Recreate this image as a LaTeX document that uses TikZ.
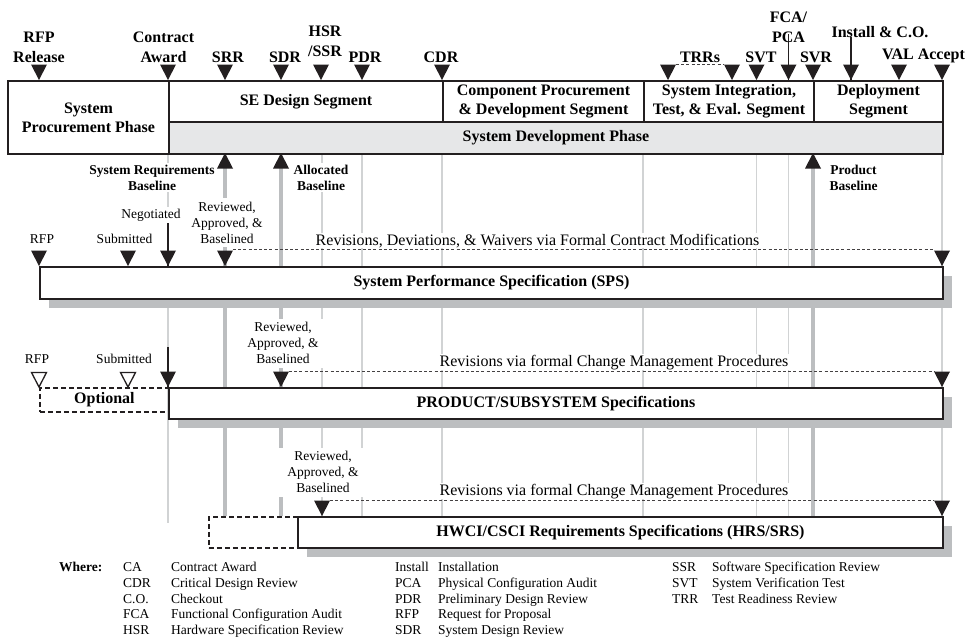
\documentclass[tikz,border=0pt]{standalone}
\usepackage{fontspec}
\setmainfont{Liberation Serif}
\usepackage{xcolor}
\usetikzlibrary{positioning,calc,shadows}

\definecolor{inkdark}{RGB}{35,31,32}
\definecolor{phasegray}{RGB}{230,231,232}
\definecolor{shadowgray}{RGB}{188,190,192}
\definecolor{gridgray}{RGB}{209,211,212}

% milestone markers, apex sits on the given coordinate
\newcommand{\msdown}[1]{\fill[inkdark] (#1) -- ++(-8,-15.5) -- ++(16,0) -- cycle;}
\newcommand{\msopen}[1]{\draw[inkdark, line width=1.3pt, fill=white] (#1) -- ++(-7.5,-14.5) -- ++(15,0) -- cycle;}
\newcommand{\msup}[1]{\fill[inkdark] (#1) -- ++(-8,15.5) -- ++(16,0) -- cycle;}

\begin{document}
\begin{tikzpicture}[
    x=1pt, y=-1pt,
    bigbold/.style={font=\fontsize{16}{19.5}\selectfont\bfseries, align=center, inner sep=0pt},
    mslabel/.style={bigbold, anchor=base},
    note/.style={font=\fontsize{13.5}{15.8}\selectfont, align=center, inner sep=2pt, fill=white, anchor=base},
    notebold/.style={note, font=\fontsize{13.5}{15.2}\selectfont\bfseries},
    revnote/.style={note, inner xsep=9pt, inner ysep=4pt},
    revtext/.style={font=\fontsize{16}{19}\selectfont, inner sep=1pt, fill=white, anchor=base},
    phasebox/.style={bigbold, font=\fontsize{16}{18.8}\selectfont\bfseries, draw=inkdark, line width=2pt,
                     fill=white, anchor=north west, inner sep=2pt},
    specbar/.style={phasebox, general shadow={fill=shadowgray, shadow xshift=8.5pt, shadow yshift=-8.5pt}},
    optbox/.style={bigbold, draw=inkdark, line width=1.8pt, dash pattern=on 5pt off 3pt, anchor=north west},
    gridline/.style={gridgray, line width=1.2pt},
    blline/.style={shadowgray, line width=3.2pt},
    revline/.style={inkdark!85, line width=0.9pt, dash pattern=on 3pt off 2.2pt},
    leader/.style={inkdark, line width=1.1pt},
    legendtxt/.style={font=\fontsize{13.5}{15.8}\selectfont, inner sep=0pt, anchor=base west}
]
\useasboundingbox (0,0) rectangle (968,640);

% grid lines running down from the phase bar
\draw[gridline] (168,153) -- (168,523);
\foreach \xx in {322, 362, 442, 643, 756.5, 788.5, 942}
  \draw[gridline] (\xx,153) -- (\xx,516);
\foreach \xx in {225, 281, 813}
  \draw[blline] (\xx,160) -- (\xx,516);

% phases and segments
\node[phasebox, minimum width=161pt, minimum height=73pt] (procure) at (7,80) {System\\Procurement Phase};
\node[phasebox, minimum width=274pt, minimum height=41pt] (sedesign) at (168,80) {SE Design Segment};
\node[phasebox, minimum width=201pt, minimum height=41pt] (compdev) at (442,80) {Component Procurement\\\& Development Segment};
\node[phasebox, minimum width=170pt, minimum height=41pt] (sitest) at (643,80) {System Integration,\\Test, \& Eval. Segment};
\node[phasebox, minimum width=129pt, minimum height=41pt] (deploy) at (813,80) {Deployment\\Segment};
\node[phasebox, fill=phasegray, minimum width=774pt, minimum height=32pt] (devphase) at (168,121) {System Development Phase};

% milestones along the top
\foreach \nm/\xx in {rfp/39, ca/168, srr/225, sdr/281, hsr/321, pdr/362, cdr/442, trra/668, trrb/732,
                     svt/756.5, fca/788.5, svr/813, inst/851, val/899, acc/942}{
  \coordinate (m-\nm) at (\xx,80);
  \msdown{m-\nm}
}
\node[mslabel] (l-rfp)  at (39,62)      {RFP\\Release};
\node[mslabel] (l-ca)   at (163.5,62)   {Contract\\Award};
\node[mslabel] (l-srr)  at (228,62)     {SRR};
\node[mslabel] (l-sdr)  at (285,62)     {SDR};
\node[mslabel] (l-hsr)  at (325,56)     {HSR\\/SSR};
\node[mslabel] (l-pdr)  at (365,62)     {PDR};
\node[mslabel] (l-cdr)  at (441,62)     {CDR};
\node[mslabel] (l-trr)  at (700,62)     {TRRs};
\node[mslabel] (l-svt)  at (761,62)     {SVT};
\node[mslabel] (l-fca)  at (788.5,42)   {FCA/\\PCA};
\node[mslabel] (l-svr)  at (816,62)     {SVR};
\node[mslabel] (l-inst) at (880,37)     {Install \& C.O.};
\node[mslabel] (l-val)  at (923.5,59.5) {VAL Accept};
\draw[revline] ($(m-trra)+(8,-16)$) -- ($(m-trrb)+(-8,-16)$);
\draw[leader] ([yshift=8pt]l-fca.south) -- (m-fca);
\draw[leader] (l-inst.south -| m-inst) -- (m-inst);

% baselines
\foreach \nm/\xx in {srb/225, alb/281, prb/813}{
  \coordinate (u-\nm) at (\xx,153);
  \msup{u-\nm}
}
\node[notebold] (l-srb) at (152,190)   {System Requirements\\Baseline};
\node[notebold] (l-alb) at (321,190)   {Allocated\\Baseline};
\node[notebold] (l-prb) at (853.5,190) {Product\\Baseline};

% System Performance Specification
\node[note] (s-lrfp) at (42,243)    {RFP};
\node[note] (s-lsub) at (124.5,243) {Submitted};
\node[note] (s-lneg) at (151,218)   {Negotiated};
\node[revnote] (s-lrev) at (227,243) {Reviewed,\\Approved, \&\\Baselined};
\node[revtext] (s-lmod) at (537.5,245) {Revisions, Deviations, \& Waivers via Formal Contract Modifications};
\node[specbar, minimum width=903pt, minimum height=32pt] (sps) at (39,266) {System Performance Specification (SPS)};
\foreach \nm/\xx in {rfp/39, sub/128, ca/168, rev/225, end/942}{
  \coordinate (s-\nm) at (\xx,266);
  \msdown{s-\nm}
}
\draw[leader] (s-lneg.south -| s-ca) -- (s-ca);
\draw[revline] ($(s-rev)+(8,-16.5)$) -- ($(s-end)+(-8,-16.5)$);

% product / subsystem specifications
\node[note] (p-lrfp) at (37,363)  {RFP};
\node[note] (p-lsub) at (124,363) {Submitted};
\node[revnote] (p-lrev) at (283,363.5) {Reviewed,\\Approved, \&\\Baselined};
\node[revtext] (p-lmod) at (614,366) {Revisions via formal Change Management Procedures};
\node[optbox, minimum width=129pt, minimum height=24pt] (optional) at (39,387) {Optional};
\node[specbar, minimum width=774pt, minimum height=31pt] (prodspec) at (168,387) {PRODUCT/SUBSYSTEM Specifications};
\coordinate (p-catop) at (168,347);
\foreach \nm/\xx in {rfp/39, sub/128}{
  \coordinate (p-\nm) at (\xx,387);
  \msopen{p-\nm}
}
\foreach \nm/\xx in {ca/168, rev/281, end/942}{
  \coordinate (p-\nm) at (\xx,387);
  \msdown{p-\nm}
}
\draw[leader] (p-catop) -- (p-ca);
\draw[revline] ($(p-rev)+(8,-16)$) -- ($(p-end)+(-8,-16)$);

% HWCI / CSCI specifications
\node[revnote] (h-lrev) at (323,492.5) {Reviewed,\\Approved, \&\\Baselined};
\node[revtext] (h-lmod) at (614,495) {Revisions via formal Change Management Procedures};
\node[optbox, minimum width=89pt, minimum height=31pt] (hwcipre) at (208,516) {};
\node[specbar, minimum width=645pt, minimum height=31pt] (hwci) at (297,516) {HWCI/CSCI Requirements Specifications (HRS/SRS)};
\foreach \nm/\xx in {rev/322, end/942}{
  \coordinate (h-\nm) at (\xx,516);
  \msdown{h-\nm}
}
\draw[revline] ($(h-rev)+(8,-15.5)$) -- ($(h-end)+(-8,-15.5)$);

% abbreviations
\node[legendtxt, font=\fontsize{13.5}{15.8}\selectfont\bfseries] (where) at (59,571.5) {Where:};
\foreach \ab/\desc [count=\i from 0] in {CA/Contract Award, CDR/Critical Design Review, C.O./Checkout,
                                         FCA/Functional Configuration Audit, HSR/Hardware Specification Review}{
  \node[legendtxt] (ka-\i) at (123,571.5+15.8*\i) {\ab};
  \node[legendtxt] (kd-\i) at (171,571.5+15.8*\i) {\desc};
}
\foreach \ab/\desc [count=\i from 0] in {Install/Installation, PCA/Physical Configuration Audit,
                                         PDR/Preliminary Design Review, RFP/Request for Proposal, SDR/System Design Review}{
  \node[legendtxt] (kb-\i) at (395,571.5+15.8*\i) {\ab};
  \node[legendtxt] (ke-\i) at (438,571.5+15.8*\i) {\desc};
}
\foreach \ab/\desc [count=\i from 0] in {SSR/Software Specification Review, SVT/System Verification Test,
                                         TRR/Test Readiness Review}{
  \node[legendtxt] (kc-\i) at (672,571.5+15.8*\i) {\ab};
  \node[legendtxt] (kf-\i) at (712,571.5+15.8*\i) {\desc};
}

\end{tikzpicture}
\end{document}
